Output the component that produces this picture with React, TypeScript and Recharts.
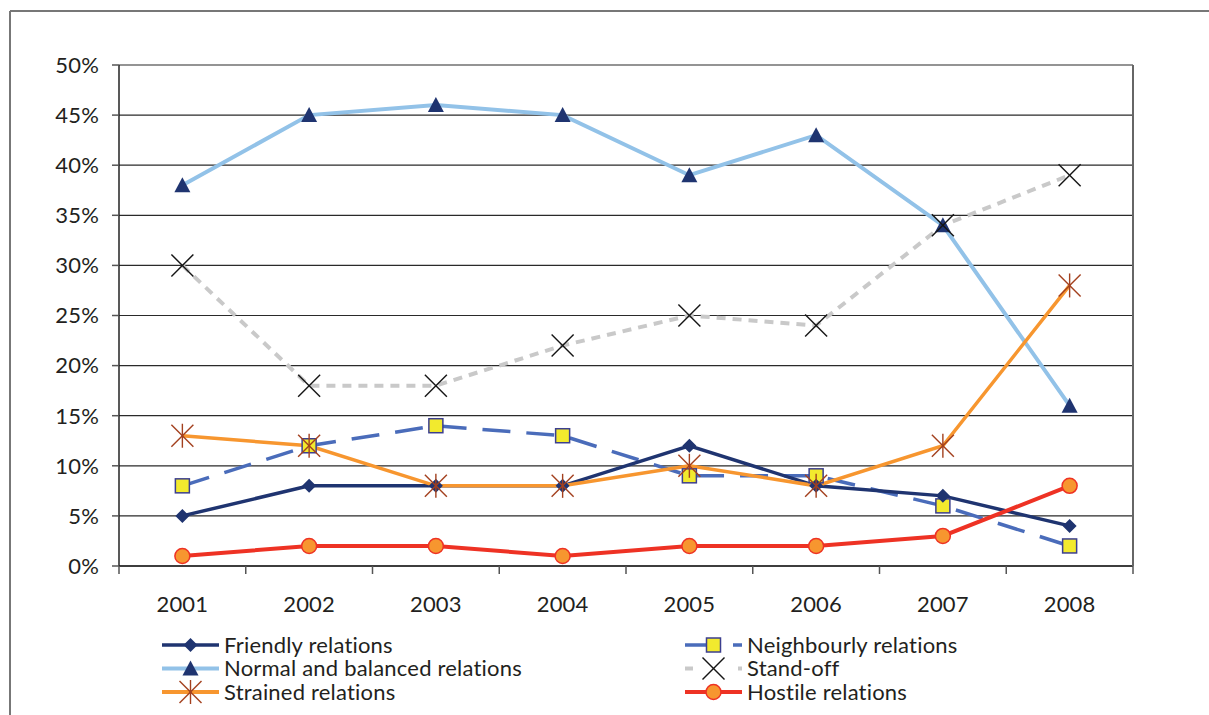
import React from 'react';
import { LineChart, Line, XAxis, YAxis, CartesianGrid } from 'recharts';

const years = [2001, 2002, 2003, 2004, 2005, 2006, 2007, 2008];
const friendly = [5, 8, 8, 8, 12, 8, 7, 4];
const neighbourly = [8, 12, 14, 13, 9, 9, 6, 2];
const normal = [38, 45, 46, 45, 39, 43, 34, 16];
const standOff = [30, 18, 18, 22, 25, 24, 34, 39];
const strained = [13, 12, 8, 8, 10, 8, 12, 28];
const hostile = [1, 2, 2, 1, 2, 2, 3, 8];
const yTicks = [0, 5, 10, 15, 20, 25, 30, 35, 40, 45, 50];
const seriesNames = {
  friendly: 'Friendly relations',
  neighbourly: 'Neighbourly relations',
  normal: 'Normal and balanced relations',
  standOff: 'Stand-off',
  strained: 'Strained relations',
  hostile: 'Hostile relations',
};

const yearEdges = [...years.map((y) => y - 0.5), years[years.length - 1] + 0.5];
const xDomain = [yearEdges[0], yearEdges[yearEdges.length - 1]];

const data = years.map((year, i) => ({
  year,
  friendly: friendly[i],
  neighbourly: neighbourly[i],
  normal: normal[i],
  standOff: standOff[i],
  strained: strained[i],
  hostile: hostile[i],
}));

const NAVY = '#1F3470';
const NEIGH = '#4A6CBA';
const LIGHT = '#92C2E8';
const GRAY = '#C9C9C9';
const ORANGE = '#F7962F';
const RED = '#EE3224';
const BROWN = '#A3401E';
const TEXT = '#231F20';
const FONT = 'Lato, "DejaVu Sans", sans-serif';
const FS = 22;

const Diamond = ({ cx, cy }: any) => (
  <polygon points={`${cx},${cy - 7} ${cx + 7},${cy} ${cx},${cy + 7} ${cx - 7},${cy}`} fill={NAVY} />
);
const Square = ({ cx, cy }: any) => (
  <rect x={cx - 7} y={cy - 7} width={14} height={14} fill="#F2EA2E" stroke="#3C3F8F" strokeWidth={1.5} />
);
const Triangle = ({ cx, cy }: any) => (
  <polygon points={`${cx},${cy - 8} ${cx + 8},${cy + 7} ${cx - 8},${cy + 7}`} fill={NAVY} />
);
const XMark = ({ cx, cy }: any) => (
  <g stroke="#151515" strokeWidth={1.4}>
    <line x1={cx - 11} y1={cy - 11} x2={cx + 11} y2={cy + 11} />
    <line x1={cx - 11} y1={cy + 11} x2={cx + 11} y2={cy - 11} />
  </g>
);
const Star = ({ cx, cy }: any) => (
  <g stroke={BROWN} strokeWidth={1.4}>
    <line x1={cx - 11} y1={cy - 11} x2={cx + 11} y2={cy + 11} />
    <line x1={cx - 11} y1={cy + 11} x2={cx + 11} y2={cy - 11} />
    <line x1={cx} y1={cy - 12} x2={cx} y2={cy + 12} />
  </g>
);
const Circle = ({ cx, cy }: any) => (
  <circle cx={cx} cy={cy} r={7.5} fill={ORANGE} stroke={RED} strokeWidth={1.5} />
);

const dotFn = (Comp: any, name: string) => (p: any) => <Comp key={`${name}-${p.index}`} cx={p.cx} cy={p.cy} />;

const legendLeft = [
  { key: 'friendly', color: NAVY, width: 3.5, dash: undefined, Marker: Diamond },
  { key: 'normal', color: LIGHT, width: 4, dash: undefined, Marker: Triangle },
  { key: 'strained', color: ORANGE, width: 4, dash: undefined, Marker: Star },
];
const legendRight = [
  { key: 'neighbourly', color: NEIGH, width: 3.5, dash: '22 26 9 100', Marker: Square },
  { key: 'standOff', color: GRAY, width: 4, dash: '8 45', Marker: XMark },
  { key: 'hostile', color: RED, width: 4, dash: undefined, Marker: Circle },
];

const LegendCol = ({ items, x0 }: any) => (
  <g>
    {items.map((it: any, i: number) => {
      const y = 645 + i * 23.5;
      return (
        <g key={it.key}>
          <line x1={x0} y1={y} x2={x0 + 57} y2={y} stroke={it.color} strokeWidth={it.width} strokeDasharray={it.dash} />
          <it.Marker cx={x0 + 28.5} cy={y} />
          <text x={x0 + 62} y={y} dy="0.35em" fontSize={FS} letterSpacing={0.2} fill={TEXT} fontFamily={FONT}>
            {(seriesNames as any)[it.key]}
          </text>
        </g>
      );
    })}
  </g>
);

export default function App() {
  return (
    <div style={{ position: 'absolute', left: 0, top: 0, width: 1209, height: 715, background: '#fff', fontFamily: FONT }}>
      <LineChart width={1209} height={715} data={data} margin={{ top: 65, right: 75, bottom: 147, left: 0 }}>
        <CartesianGrid vertical={false} stroke="#2a2a2a" strokeWidth={1.2} />
        <XAxis
          dataKey="year"
          type="number"
          domain={xDomain}
          ticks={yearEdges}
          interval={0}
          height={1}
          allowDataOverflow
          tickFormatter={() => ''}
          tickSize={8}
          axisLine={{ stroke: '#222', strokeWidth: 1.5 }}
          tickLine={{ stroke: '#555', strokeWidth: 1.5 }}
        />
        <XAxis
          xAxisId="labels"
          dataKey="year"
          type="number"
          domain={xDomain}
          ticks={years}
          interval={0}
          height={1}
          allowDataOverflow
          axisLine={false}
          tickLine={false}
          tickSize={0}
          tickMargin={29}
          tick={{ fontSize: FS, fill: TEXT, fontFamily: FONT, letterSpacing: 0.2 }}
        />
        <YAxis
          domain={[0, 50]}
          ticks={yTicks}
          interval={0}
          width={119}
          tickSize={7}
          tickMargin={13}
          tickFormatter={(v: number) => `${v}%`}
          axisLine={{ stroke: '#222', strokeWidth: 1.5 }}
          tickLine={{ stroke: '#555', strokeWidth: 1.5 }}
          tick={{ fontSize: FS, fill: TEXT, fontFamily: FONT, letterSpacing: 0.2 }}
        />
        <YAxis yAxisId="right" orientation="right" width={1} tick={false} tickLine={false} axisLine={{ stroke: '#666', strokeWidth: 2 }} />
        <Line dataKey="neighbourly" stroke={NEIGH} strokeWidth={3.5} strokeDasharray="28 16" dot={dotFn(Square, 'n')} isAnimationActive={false} />
        <Line dataKey="friendly" stroke={NAVY} strokeWidth={3.5} dot={dotFn(Diamond, 'f')} isAnimationActive={false} />
        <Line dataKey="normal" stroke={LIGHT} strokeWidth={4} dot={dotFn(Triangle, 'b')} isAnimationActive={false} />
        <Line dataKey="standOff" stroke={GRAY} strokeWidth={4} strokeDasharray="9 7" dot={dotFn(XMark, 's')} isAnimationActive={false} />
        <Line dataKey="strained" stroke={ORANGE} strokeWidth={3.5} dot={dotFn(Star, 't')} isAnimationActive={false} />
        <Line dataKey="hostile" stroke={RED} strokeWidth={4} dot={dotFn(Circle, 'h')} isAnimationActive={false} />
      </LineChart>
      <svg width={1209} height={715} style={{ position: 'absolute', left: 0, top: 0, pointerEvents: 'none' }}>
        <line x1={10} y1={11} x2={1209} y2={11} stroke="#777" strokeWidth={2} />
        <line x1={10} y1={11} x2={10} y2={715} stroke="#777" strokeWidth={2} />
        <LegendCol items={legendLeft} x0={162} />
        <LegendCol items={legendRight} x0={685} />
      </svg>
    </div>
  );
}
